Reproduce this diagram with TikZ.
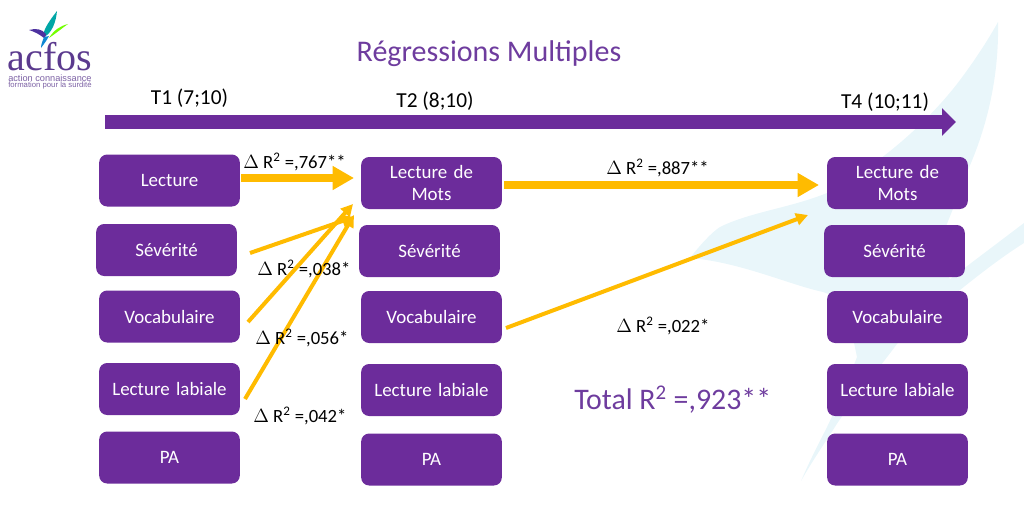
\documentclass[tikz,border=0pt]{standalone}
\usepackage{fontspec}
\setmainfont{Carlito}
\newfontfamily\logofont{Liberation Serif}
\newfontfamily\logosans{Liberation Sans}
\definecolor{purp}{HTML}{6C2C9B}
\definecolor{titlep}{HTML}{6E3C9E}
\definecolor{gold}{HTML}{FFBB00}
\definecolor{pale}{HTML}{E9F6FA}
\definecolor{logop}{HTML}{5B3A8E}
\usetikzlibrary{arrows.meta}
\tikzset{
 box/.style={draw=none,fill=purp,rounded corners=6pt,minimum width=105.5pt,minimum height=39pt,text width=100pt,align=center,text=white,font=\fontsize{14.2pt}{17.3pt}\selectfont,inner sep=0pt,execute at begin node={\vspace{-1.5pt}}},
 lab/.style={text=black,font=\fontsize{14pt}{16pt}\selectfont,inner sep=0pt},
 time/.style={text=black,font=\fontsize{16pt}{18pt}\selectfont,inner sep=0pt},
 thick arrow/.style={draw=gold,line width=6pt,-{Triangle[length=16pt,width=17pt]}},
 thin arrow/.style={draw=gold,line width=3pt,-{Triangle[length=9pt,width=9pt]}},
}
\begin{document}
\begin{tikzpicture}[x=0.75pt,y=-0.75pt]
\useasboundingbox (0,0) rectangle (1024,522);
% background swoosh
\fill[pale] (998,22) .. controls (999,70) and (990,120) .. (968,170) .. controls (955,205) and (940,240) .. (935,255)
  -- (950,279) -- (1024,223) -- (1024,243) .. controls (1000,258) and (975,278) .. (960,290)
  .. controls (930,310) and (915,322) .. (900,340) .. controls (870,380) and (845,410) .. (833,430)
  .. controls (820,450) and (810,465) .. (801,481) .. controls (810,460) and (818,445) .. (827,427)
  .. controls (840,400) and (848,380) .. (857,357) -- (845,300) -- (823,292)
  .. controls (790,285) and (740,262) .. (690,258)
  .. controls (700,245) and (712,232) .. (720,227) .. controls (750,212) and (790,208) .. (827,193)
  .. controls (880,165) and (930,120) .. (960,80) .. controls (975,60) and (988,40) .. (998,22) -- cycle;
% logo
\fill[teal!70!cyan] (57,11) .. controls (56,22) and (52,33) .. (44,37) .. controls (42,33) and (46,25) .. (57,11) -- cycle;
\fill[logop!85!blue] (29,30) .. controls (36,28) and (42,29) .. (46,34) .. controls (46,36) and (45,38) .. (44,38) .. controls (39,34) and (35,32) .. (29,30) -- cycle;
\fill[green!55!yellow] (68,24) .. controls (60,26) and (54,30) .. (49,38) .. controls (55,34) and (61,29) .. (68,24) -- cycle;
\fill[cyan!70!blue] (49,36) .. controls (47,40) and (44,44) .. (41,48) .. controls (41,44) and (43,40) .. (44,37) -- cycle;
\node[inner sep=0pt,text=logop,font=\logofont\fontsize{30pt}{30pt}\selectfont] (logoname) at (50,57) {acfos};
\node[inner sep=0pt,text=logop!80,anchor=west,font=\logosans\fontsize{6.9pt}{7pt}\selectfont] (logo1) at (8,78) {action connaissance};
\node[inner sep=0pt,text=logop!80,anchor=west,font=\logosans\fontsize{5.8pt}{6pt}\selectfont] (logo2) at (8,85.5) {formation pour la surdité};
% title and time labels
\node[inner sep=0pt,text=titlep,font=\fontsize{22.5pt}{26pt}\selectfont] (title) at (489,54) {Régressions Multiples};
\node[time] (t1) at (189.5,98) {T1 (7;10)};
\node[time] (t2) at (435,101) {T2 (8;10)};
\node[time] (t4) at (885,102) {T4 (10;11)};
% timeline
\coordinate (tlstart) at (105,122);
\coordinate (tlend) at (956,122);
\draw[draw=purp,line width=10pt,-{Triangle[length=10.5pt,width=20pt]}] (tlstart) -- (tlend);
% boxes
\node[box] (a1) at (169.5,180.5) {Lecture};
\node[box] (a2) at (166.5,250) {Sévérité};
\node[box] (a3) at (169.5,316.5) {Vocabulaire};
\node[box] (a4) at (169.5,389) {Lecture labiale};
\node[box] (a5) at (169.5,457.5) {PA};
\node[box] (b1) at (431.5,183) {Lecture de\\Mots};
\node[box] (b2) at (429.5,251) {Sévérité};
\node[box] (b3) at (431.5,317) {Vocabulaire};
\node[box] (b4) at (431.5,390) {Lecture labiale};
\node[box] (b5) at (431.5,459.5) {PA};
\node[box] (c1) at (897.5,183) {Lecture de\\Mots};
\node[box] (c2) at (894.5,251) {Sévérité};
\node[box] (c3) at (897.5,317) {Vocabulaire};
\node[box] (c4) at (897.5,390) {Lecture labiale};
\node[box] (c5) at (897.5,459.5) {PA};
% arrow ends
\coordinate (s1) at (241,178);
\coordinate (e1) at (354,178);
\coordinate (s2) at (250,253);
\coordinate (e2) at (354,217);
\coordinate (s3) at (248,322);
\coordinate (e3) at (353,204);
\coordinate (s4) at (245,399);
\coordinate (e4) at (354,215);
\coordinate (s5) at (504,185);
\coordinate (e5) at (819,185);
\coordinate (s6) at (506,328);
\coordinate (e6) at (808,215);
\draw[thick arrow] (s1) -- (e1);
\draw[thin arrow] (s2) -- (e2);
\draw[thin arrow] (s3) -- (e3);
\draw[thin arrow] (s4) -- (e4);
\draw[thick arrow] (s5) -- (e5);
\draw[thin arrow] (s6) -- (e6);
% labels
\node[lab,anchor=west] (l1) at (243,162) {$\Delta$ R\textsuperscript{2} =,767**};
\node[lab,anchor=west] (l2) at (257,269) {$\Delta$ R\textsuperscript{2} =,038*};
\node[lab,anchor=west] (l3) at (255,338) {$\Delta$ R\textsuperscript{2} =,056*};
\node[lab,anchor=west] (l4) at (253,416) {$\Delta$ R\textsuperscript{2} =,042*};
\node[lab,anchor=west] (l5) at (606,168) {$\Delta$ R\textsuperscript{2} =,887**};
\node[lab,anchor=west] (l6) at (616,326) {$\Delta$ R\textsuperscript{2} =,022*};
\node[inner sep=0pt,anchor=west,text=titlep,font=\fontsize{22.4pt}{26pt}\selectfont] (total) at (574,400) {Total R\textsuperscript{2} =,923**};
\end{tikzpicture}
\end{document}
